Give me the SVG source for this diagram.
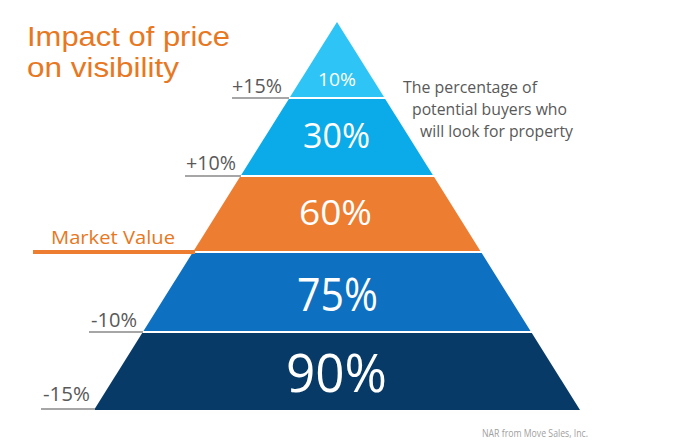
<svg xmlns="http://www.w3.org/2000/svg" width="673" height="447" viewBox="0 0 673 447">
<style>
.band-label{font-family:"Open Sans","Liberation Sans",sans-serif;fill:#ffffff;text-anchor:middle}
.pct{font-family:"Open Sans","Liberation Sans",sans-serif;font-size:20px;fill:#595959}
.lead{stroke:#a6a6a6;stroke-width:2;fill:none}
.note{font-family:"Open Sans","Liberation Sans",sans-serif;font-size:16px;fill:#595959}
.title{font-family:"Liberation Sans","Open Sans",sans-serif;font-size:27.5px;fill:#E87722}
</style>
<rect width="673" height="447" fill="#ffffff"/>
<g id="title">
<text class="title" x="27" y="46" textLength="203" lengthAdjust="spacingAndGlyphs">Impact of price</text>
<text class="title" x="27" y="77" textLength="152" lengthAdjust="spacingAndGlyphs">on visibility</text>
</g>
<g id="band-10">
<polygon points="337,22 384,97 290,97" fill="#2EC4F5"/>
<text class="band-label" x="337" y="86" font-size="18" textLength="38" lengthAdjust="spacingAndGlyphs">10%</text>
</g>
<g id="band-30">
<polygon points="288.8,99 385.2,99 432.8,175 241.2,175" fill="#0AABE8"/>
<text class="band-label" x="336.5" y="148" font-size="34" textLength="67" lengthAdjust="spacingAndGlyphs">30%</text>
</g>
<g id="band-60">
<polygon points="239.9,177 434.1,177 480.4,251 193.6,251" fill="#ED7D31"/>
<text class="band-label" x="335.5" y="225" font-size="35" textLength="73" lengthAdjust="spacingAndGlyphs">60%</text>
</g>
<g id="band-75">
<polygon points="192.3,253 481.7,253 530.5,331 143.5,331" fill="#0E70C0"/>
<text class="band-label" x="337.5" y="311" font-size="45" textLength="81" lengthAdjust="spacingAndGlyphs">75%</text>
</g>
<g id="band-90">
<polygon points="142.2,333 531.8,333 580,410 94,410" fill="#073A66"/>
<text class="band-label" x="336.5" y="392" font-size="53" textLength="101" lengthAdjust="spacingAndGlyphs">90%</text>
</g>
<g id="connectors">
<line class="lead" x1="232" y1="98" x2="289" y2="98"/>
<line class="lead" x1="185" y1="176" x2="241" y2="176"/>
<line x1="33" y1="252" x2="195" y2="252" stroke="#ED7D31" stroke-width="4"/>
<line class="lead" x1="89" y1="332" x2="143" y2="332"/>
<line class="lead" x1="41" y1="409" x2="95" y2="409"/>
</g>
<g id="labels">
<text class="pct" x="232" y="93" textLength="50" lengthAdjust="spacingAndGlyphs">+15%</text>
<text class="pct" x="186" y="170" textLength="50" lengthAdjust="spacingAndGlyphs">+10%</text>
<text x="51" y="244" font-family="Open Sans, Liberation Sans, sans-serif" font-size="19" fill="#E87722" textLength="124" lengthAdjust="spacingAndGlyphs">Market Value</text>
<text class="pct" x="91" y="327" textLength="46" lengthAdjust="spacingAndGlyphs">-10%</text>
<text class="pct" x="43" y="401" textLength="47" lengthAdjust="spacingAndGlyphs">-15%</text>
</g>
<g id="note">
<text class="note" x="403" y="93" textLength="134" lengthAdjust="spacingAndGlyphs">The percentage of</text>
<text class="note" x="412" y="115" textLength="155" lengthAdjust="spacingAndGlyphs">potential buyers who</text>
<text class="note" x="420" y="137" textLength="153" lengthAdjust="spacingAndGlyphs">will look for property</text>
</g>
<g id="source">
<text x="482" y="437" font-family="Open Sans, Liberation Sans, sans-serif" font-size="10" fill="#a0a0a0" textLength="106" lengthAdjust="spacingAndGlyphs">NAR from Move Sales, Inc.</text>
</g>
</svg>
